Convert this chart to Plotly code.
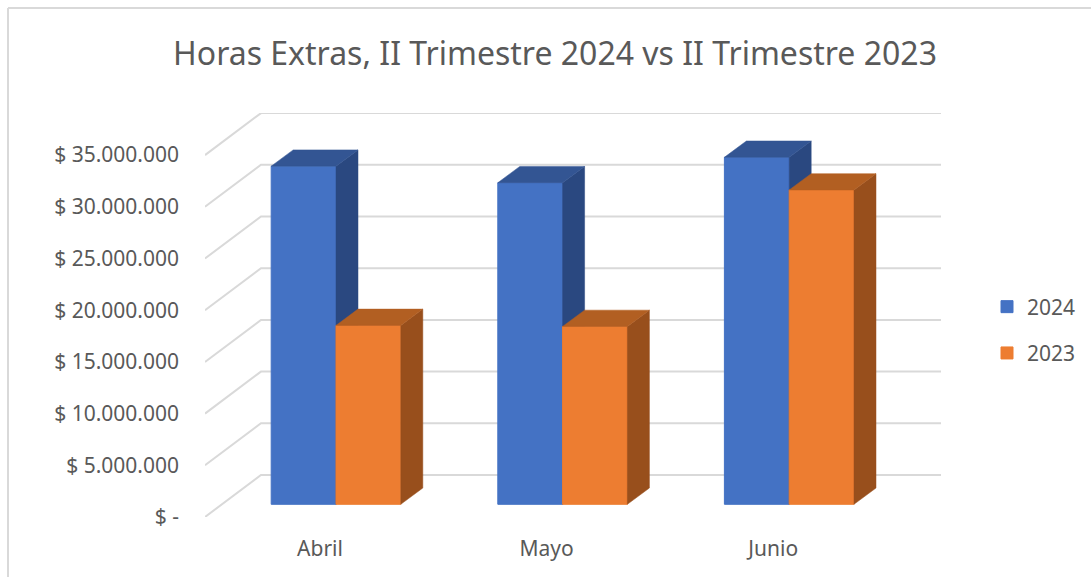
import plotly.graph_objects as go

months = ["Abril", "Mayo", "Junio"]
tick_values = [0, 5000000, 10000000, 15000000, 20000000, 25000000, 30000000, 35000000]
tick_labels = ["$ -", "$ 5.000.000", "$ 10.000.000", "$ 15.000.000", "$ 20.000.000",
               "$ 25.000.000", "$ 30.000.000", "$ 35.000.000"]
values_2024 = [32700000, 31100000, 33560000]
values_2023 = [17300000, 17200000, 30400000]

W, H = 1091, 577
PL, PR, PT, PB = 205, 941, 113, 517      # plot area in pixels
PX_PER_VAL = 51.7 / 5000000
PX_PER_CAT = 226.6
CAT0_PX = 336.0


def dx(px):
    return px / PX_PER_CAT


def dy(px):
    return px / PX_PER_VAL


x_range = [dx(PL - CAT0_PX), dx(PR - CAT0_PX)]
y_range = [0, dy(PB - PT)]
bar_w = dx(64.8)
base = dy(12.7)
depth_x, depth_y = dx(22), dy(16.3)
wall_x, wall_y = dx(56), dy(42)
idx = list(range(len(months)))

GRID = "#d9d9d9"
TEXT = "#595959"
FONT = "Noto Sans"

fig = go.Figure()

# floor / wall grid lines
for v in tick_values:
    fig.add_trace(go.Scatter(
        x=[x_range[0], x_range[0] + wall_x, x_range[1]],
        y=[v, v + wall_y, v + wall_y],
        mode="lines", line=dict(color=GRID, width=2),
        hoverinfo="skip", showlegend=False, xaxis="x", yaxis="y", cliponaxis=False))


def add_series(name, values, offset, front, top, side, xa, ya):
    fig.add_trace(go.Bar(
        x=idx, y=values, base=[base] * len(values), name=name, width=bar_w, offset=offset,
        legendgroup=name,
        marker=dict(color=front, line=dict(width=1, color=front)), xaxis=xa, yaxis=ya))
    for i, v in zip(idx, values):
        x0 = i + offset
        x1 = x0 + bar_w
        t = base + v
        fig.add_trace(go.Scatter(
            x=[x1, x1 + depth_x, x1 + depth_x, x1, x1],
            y=[base, base + depth_y, t + depth_y, t, base],
            mode="lines", fill="toself", fillcolor=side, line=dict(color=side, width=0.5),
            hoverinfo="skip", showlegend=False, legendgroup=name, xaxis=xa, yaxis=ya))
        fig.add_trace(go.Scatter(
            x=[x0, x0 + depth_x, x1 + depth_x, x1, x0],
            y=[t, t + depth_y, t + depth_y, t, t],
            mode="lines", fill="toself", fillcolor=top, line=dict(color=top, width=0.5),
            hoverinfo="skip", showlegend=False, legendgroup=name, xaxis=xa, yaxis=ya))


add_series("2024", values_2024, -bar_w, "#4472C4", "#335593", "#2A4880", "x2", "y2")
add_series("2023", values_2023, 0, "#ED7D31", "#B25F22", "#984F1C", "x3", "y3")

hidden = dict(visible=False, fixedrange=True)


def pxx(p):
    return (p - PL) / (PR - PL)


def pxy(p):
    return (PB - p) / (PB - PT)


fig.update_layout(
    width=W, height=H,
    margin=dict(l=PL, r=W - PR, t=PT, b=H - PB, pad=0, autoexpand=False),
    paper_bgcolor="white", plot_bgcolor="rgba(0,0,0,0)",
    barmode="overlay",
    font=dict(family=FONT, color=TEXT, size=21),
    title=dict(text="Horas Extras, II Trimestre 2024 vs II Trimestre 2023",
               font=dict(size=32, color=TEXT, family=FONT),
               x=555 / W, xanchor="center", y=1 - 54 / H, yanchor="middle"),
    xaxis=dict(range=x_range, tickmode="array",
               tickvals=[i - dx(16) for i in idx], ticktext=months,
               showgrid=False, zeroline=False, showline=False, ticks="",
               ticklabelstandoff=17, fixedrange=True),
    yaxis=dict(range=y_range, tickmode="array", tickvals=tick_values, ticktext=tick_labels,
               showgrid=False, zeroline=False, showline=False, ticks="",
               ticklabelstandoff=25, fixedrange=True),
    xaxis2=dict(range=x_range, overlaying="x", **hidden),
    yaxis2=dict(range=y_range, overlaying="y", **hidden),
    xaxis3=dict(range=x_range, overlaying="x", **hidden),
    yaxis3=dict(range=y_range, overlaying="y", **hidden),
    legend=dict(x=pxx(987), xanchor="left", y=pxy(330), yanchor="middle",
                font=dict(size=21, color=TEXT), tracegroupgap=16, itemclick=False,
                bgcolor="rgba(0,0,0,0)"),
    shapes=[
        dict(type="line", xref="paper", yref="paper", x0=pxx(8), x1=pxx(8), y0=pxy(577), y1=pxy(8),
             line=dict(color=GRID, width=2)),
        dict(type="line", xref="paper", yref="paper", x0=pxx(8), x1=pxx(1091), y0=pxy(8), y1=pxy(8),
             line=dict(color=GRID, width=2)),
    ],
)

fig.write_html("out.html", config=dict(displayModeBar=False),
               post_script="document.body.style.margin='0';document.body.style.overflow='hidden';")
